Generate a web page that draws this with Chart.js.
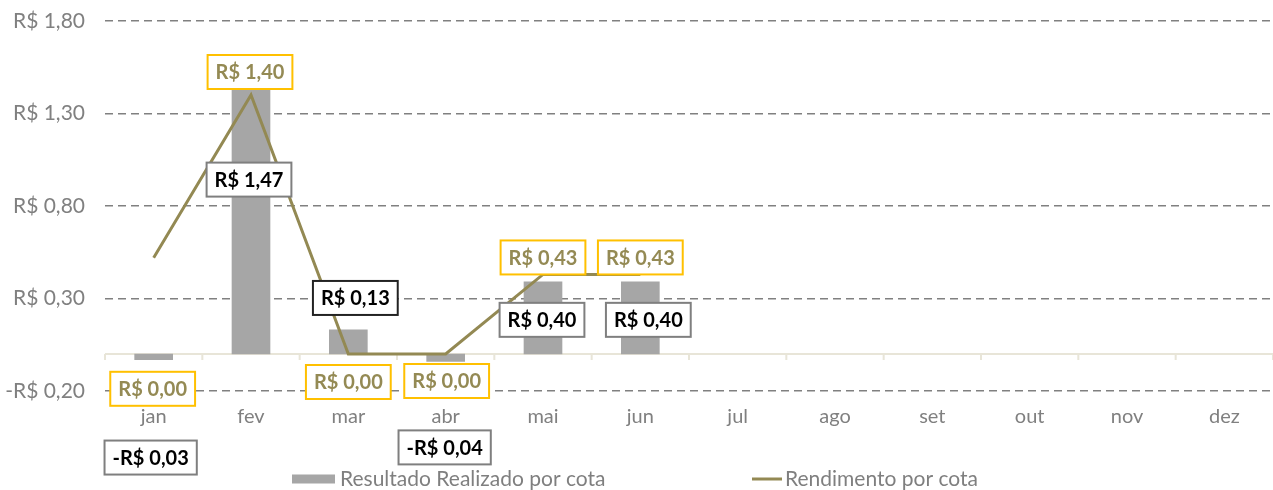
<!DOCTYPE html>
<html>
<head>
<meta charset="utf-8">
<script src="https://cdn.jsdelivr.net/npm/chart.js@4"></script>
<style>
  body { margin: 0; background: #fff; }
  #wrap { width: 1273px; height: 490px; position: relative; }
</style>
</head>
<body>
<div id="wrap"><canvas id="chart"></canvas></div>
<script>
// chart data
const months = ["jan", "fev", "mar", "abr", "mai", "jun", "jul", "ago", "set", "out", "nov", "dez"];
const resultado = [-0.03, 1.44, 0.13, -0.04, 0.39, 0.39, null, null, null, null, null, null];
const rendimento = [0.52, 1.40, 0.00, 0.00, 0.43, 0.43, null, null, null, null, null, null];
const resultadoLabels = ["-R$ 0,03", "R$ 1,47", "R$ 0,13", "-R$ 0,04", "R$ 0,40", "R$ 0,40"];
const rendimentoLabels = ["R$ 0,00", "R$ 1,40", "R$ 0,00", "R$ 0,00", "R$ 0,43", "R$ 0,43"];
const yTicks = [-0.2, 0.3, 0.8, 1.3, 1.8];

const FONT = "Lato, 'Open Sans', sans-serif";

// label offsets from the point (px), as placed in the original
const barLabelOffsets = [[-3, 98], [-2, 92], [7, -32], [-1, 86], [-1, 38], [8, 38]];
const lineLabelOffsets = [[-1, 131], [-1, -23], [0, 28], [1, 27], [0, -17], [0, -17]];

function fmtBRL(v) {
  const s = "R$ " + Math.abs(v).toFixed(2).replace(".", ",");
  return v < 0 ? "-" + s : s;
}

// zero line with small ticks at category boundaries
const zeroAxis = {
  id: "zeroAxis",
  beforeDatasetsDraw(chart) {
    const { ctx, chartArea, scales } = chart;
    const y0 = scales.y.getPixelForValue(0);
    ctx.save();
    ctx.strokeStyle = "#E8E5D8";
    ctx.lineWidth = 2;
    ctx.beginPath();
    ctx.moveTo(chartArea.left, y0);
    ctx.lineTo(chartArea.right, y0);
    const step = (chartArea.right - chartArea.left) / months.length;
    for (let i = 0; i <= months.length; i++) {
      const x = chartArea.left + i * step;
      ctx.moveTo(x, y0);
      ctx.lineTo(x, y0 + 6);
    }
    ctx.stroke();
    ctx.restore();
  }
};

function drawBox(ctx, text, cx, cy, border, color) {
  ctx.font = "bold 20px " + FONT;
  const w = ctx.measureText(text).width + 16;
  const h = 34;
  ctx.fillStyle = "#fff";
  ctx.fillRect(cx - w / 2, cy - h / 2, w, h);
  ctx.strokeStyle = border;
  ctx.lineWidth = 2;
  ctx.strokeRect(cx - w / 2, cy - h / 2, w, h);
  ctx.fillStyle = color;
  ctx.textAlign = "center";
  ctx.textBaseline = "middle";
  ctx.fillText(text, cx, cy + 1);
}

const valueLabels = {
  id: "valueLabels",
  afterDatasetsDraw(chart) {
    const ctx = chart.ctx;
    ctx.save();
    const barMeta = chart.getDatasetMeta(0);
    resultadoLabels.forEach((t, i) => {
      const el = barMeta.data[i];
      const o = barLabelOffsets[i];
      drawBox(ctx, t, el.x + o[0], el.y + o[1], i === 2 ? "#222" : "#7F7F7F", "#000");
    });
    const lineMeta = chart.getDatasetMeta(1);
    rendimentoLabels.forEach((t, i) => {
      const el = lineMeta.data[i];
      const o = lineLabelOffsets[i];
      drawBox(ctx, t, el.x + o[0], el.y + o[1], "#FFC000", "#948A54");
    });
    ctx.restore();
  }
};

// legend at the bottom
const bottomLegend = {
  id: "bottomLegend",
  afterDraw(chart) {
    const ctx = chart.ctx;
    ctx.save();
    ctx.font = "21px " + FONT;
    ctx.textBaseline = "middle";
    ctx.textAlign = "left";
    const t1 = chart.data.datasets[0].label;
    const t2 = chart.data.datasets[1].label;
    let x = 292;
    const y = 479;
    ctx.fillStyle = "#A6A6A6";
    ctx.fillRect(x, y - 4.5, 43, 9);
    ctx.fillStyle = "#7F7F7F";
    ctx.fillText(t1, x + 48, y);
    x = 752;
    ctx.strokeStyle = "#938953";
    ctx.lineWidth = 3;
    ctx.beginPath();
    ctx.moveTo(x, y);
    ctx.lineTo(x + 30, y);
    ctx.stroke();
    ctx.fillText(t2, x + 33, y);
    ctx.restore();
  }
};

new Chart(document.getElementById("chart"), {
  type: "bar",
  data: {
    labels: months,
    datasets: [
      {
        label: "Resultado Realizado por cota",
        data: resultado,
        backgroundColor: "#A6A6A6",
        barThickness: 38,
        order: 2
      },
      {
        type: "line",
        label: "Rendimento por cota",
        data: rendimento,
        borderColor: "#938953",
        borderWidth: 3,
        pointRadius: 0,
        tension: 0,
        fill: false,
        order: 1
      }
    ]
  },
  options: {
    responsive: true,
    maintainAspectRatio: false,
    animation: false,
    layout: { padding: { top: 21, right: 0, left: 0, bottom: 0 } },
    plugins: {
      legend: { display: false },
      tooltip: { enabled: false }
    },
    scales: {
      x: {
        grid: { display: false, drawTicks: false },
        border: { display: false },
        ticks: { color: "#808080", font: { family: FONT, size: 20 }, padding: 14 },
        afterFit(scale) {
          scale.height = 99;
          scale.paddingLeft = 0;
          scale.paddingRight = 0;
        }
      },
      y: {
        min: -0.2,
        max: 1.8,
        afterBuildTicks(scale) { scale.ticks = yTicks.map(v => ({ value: v })); },
        grid: { color: "#808080", lineWidth: 1.5, drawTicks: false },
        border: { display: false, dash: [8, 5] },
        ticks: {
          color: "#808080",
          font: { family: FONT, size: 21 },
          padding: 20,
          callback: v => fmtBRL(v)
        },
        afterFit(scale) {
          scale.width = 105;
          scale.paddingTop = 0;
          scale.paddingBottom = 0;
        }
      }
    }
  },
  plugins: [zeroAxis, valueLabels, bottomLegend]
});
</script>
</body>
</html>
